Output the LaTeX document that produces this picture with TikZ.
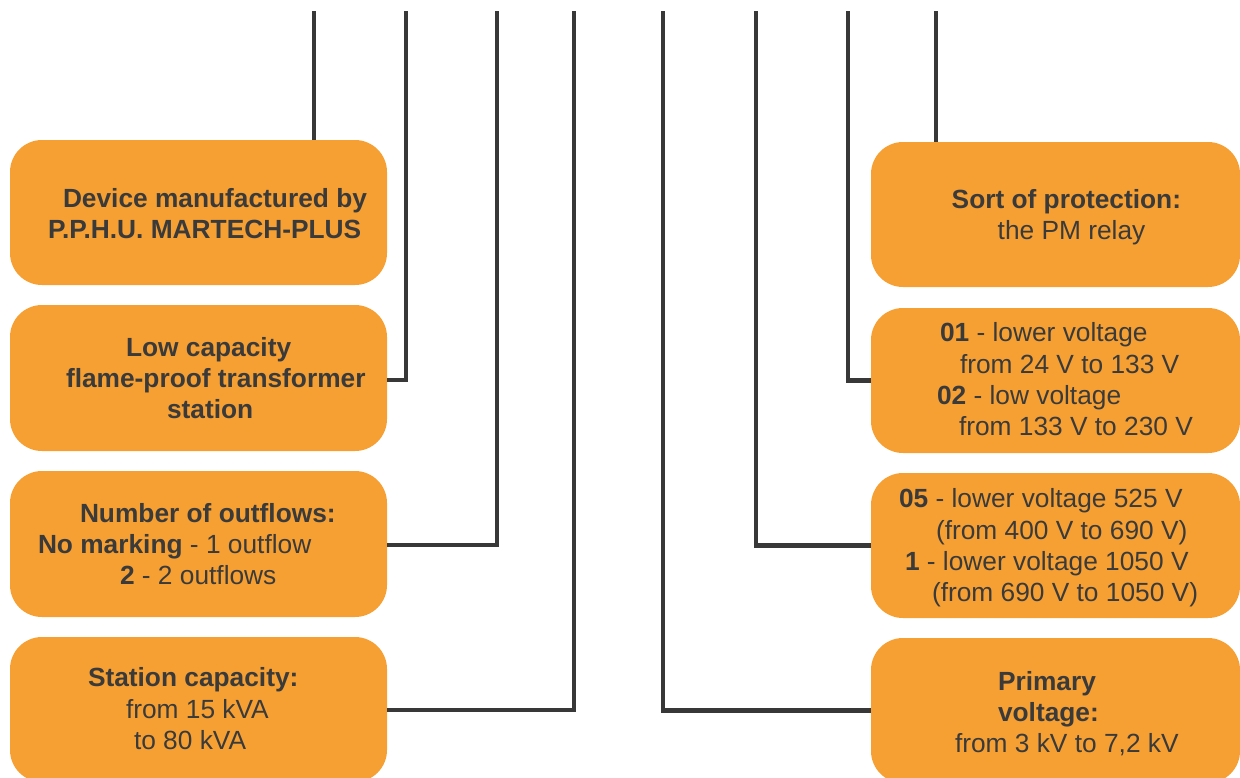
\documentclass[tikz,border=0pt]{standalone}
\usepackage{fontspec}
\setmainfont{Liberation Sans}
\definecolor{boxorange}{HTML}{F6A033}
\definecolor{darkline}{HTML}{383838}
\definecolor{txtgray}{HTML}{3A3A3A}
\newcommand{\tline}[2]{\hbox{\hspace*{#1pt}#2}}
\begin{document}
\begin{tikzpicture}[x=1pt,y=-1pt,
  obox/.style={rectangle, rounded corners=32pt, fill=boxorange, draw=none,
    anchor=north west, inner sep=0pt, outer sep=0pt, minimum height=145pt},
  lbox/.style={obox, minimum width=377pt},
  rbox/.style={obox, minimum width=369pt},
  btext/.style={anchor=base west, inner sep=0pt, outer sep=0pt, text=txtgray,
    font=\fontsize{26.3}{31.3}\selectfont},
  conn/.style={draw=darkline, line width=4.2pt, line cap=butt, line join=miter}]
\useasboundingbox (0,0) rectangle (1240,777);
\begin{scope}
\clip (0,0) rectangle (1240,777);
% boxes
\node[lbox] (L1) at (10,140) {};
\node[lbox, minimum height=146pt] (L2) at (10,305) {};
\node[lbox, minimum height=146pt] (L3) at (10,471) {};
\node[lbox] (L4) at (10,637) {};
\node[rbox] (R1) at (871,142) {};
\node[rbox] (R2) at (871,308) {};
\node[rbox] (R3) at (871,473) {};
\node[rbox] (R4) at (871,638) {};
% connector tops
\coordinate (t1) at (314,11);
\coordinate (t2) at (406,11);
\coordinate (t3) at (497,11);
\coordinate (t4) at (574,11);
\coordinate (t5) at (663,11);
\coordinate (t6) at (756,11);
\coordinate (t7) at (848,11);
\coordinate (t8) at (936,11);
\draw[conn] (t1) -- (t1 |- L1.north);
\draw[conn] (t2) |- ([yshift=-2pt]L2.east);
\draw[conn] (t3) |- ([yshift=-1pt]L3.east);
\draw[conn] (t4) |- ([yshift=-0.5pt]L4.east);
\draw[conn] (t5) |- (R4.west);
\draw[conn] (t6) |- (R3.west);
\draw[conn] (t7) |- (R2.west);
\draw[conn] (t8) -- (t8 |- R1.north);
% texts
\node[btext] (L1t) at (48,207) {\vtop{\tline{15}{\bfseries Device manufactured by}\tline{0}{\bfseries P.P.H.U. MARTECH-PLUS}}};
\node[btext] (L2t) at (66,356) {\vtop{\tline{60}{\bfseries Low capacity}\tline{0}{\bfseries flame-proof transformer}\tline{101}{\bfseries station}}};
\node[btext] (L3t) at (38,522) {\vtop{\tline{42}{\bfseries Number of outflows:}\tline{0}{\textbf{No marking} - 1 outflow}\tline{82}{\textbf{2} - 2 outflows}}};
\node[btext] (L4t) at (88,686.7) {\vtop{\tline{0}{\bfseries Station capacity:}\tline{38}{from 15 kVA}\tline{46}{to 80 kVA}}};
\node[btext] (R1t) at (951.7,208) {\vtop{\tline{0}{\bfseries Sort of protection:}\tline{46}{the PM relay}}};
\node[btext] (R2t) at (937,341.7) {\vtop{\tline{3}{\textbf{01} - lower voltage}\tline{23}{from 24 V to 133 V}\tline{0}{\textbf{02} - low voltage}\tline{22}{from 133 V to 230 V}}};
\node[btext] (R3t) at (899,507.7) {\vtop{\tline{0}{\textbf{05} - lower voltage 525 V}\tline{37}{(from 400 V to 690 V)}\tline{6}{\textbf{1} - lower voltage 1050 V}\tline{33}{(from 690 V to 1050 V)}}};
\node[btext] (R4t) at (955,690) {\vtop{\tline{43}{\bfseries Primary}\tline{43}{\bfseries voltage:}\tline{0}{from 3 kV to 7,2 kV}}};
\end{scope}
\end{tikzpicture}
\end{document}
